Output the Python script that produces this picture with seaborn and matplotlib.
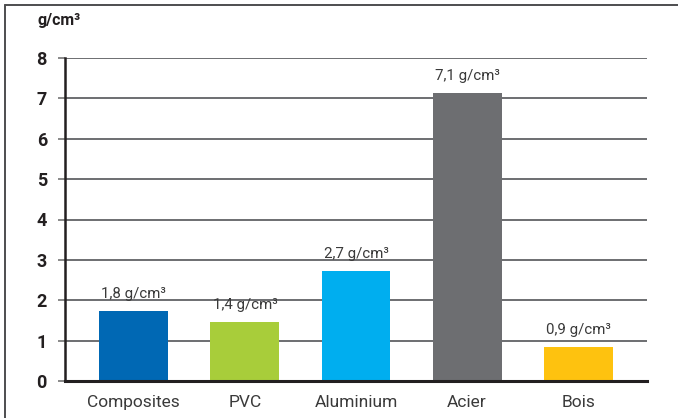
import matplotlib
matplotlib.use("Agg")
import matplotlib.pyplot as plt
from matplotlib.lines import Line2D
import seaborn as sns
import pandas as pd

categories = ["Composites", "PVC", "Aluminium", "Acier", "Bois"]
values = [1.74, 1.47, 2.73, 7.13, 0.85]
value_labels = ["1,8 g/cm³", "1,4 g/cm³", "2,7 g/cm³", "7,1 g/cm³", "0,9 g/cm³"]
colors = ["#0068b4", "#a8cd3a", "#00aeef", "#6d6e71", "#fec20f"]
y_ticks = [0, 1, 2, 3, 4, 5, 6, 7, 8]
unit_title = "g/cm³"

sns.set_theme(style="white")
plt.rcParams['font.family'] = ['Roboto', 'DejaVu Sans']

df = pd.DataFrame({"cat": categories, "val": values})

fig = plt.figure(figsize=(6.78, 4.18), dpi=100)
ax = fig.add_axes([65/678, 37/418, (647-65)/678, (381-58)/418])

sns.barplot(data=df, x="cat", y="val", hue="cat", palette=colors,
            legend=False, width=0.62, saturation=1, ax=ax, zorder=3,
            linewidth=0, edgecolor="none")

ax.set_ylim(0, 8)
ax.set_xlim(-0.62, 4.62)
ax.set_yticks(y_ticks)
ax.set_yticklabels([str(t) for t in y_ticks], fontsize=13, fontweight="bold", color="#231f20")
ax.tick_params(axis="y", length=5, width=1.3, color="#808080", pad=8, left=True)
ax.tick_params(axis="x", length=0, pad=10, labelsize=12.5, labelcolor="#3a3a3a")
ax.set_xlabel("")
ax.set_ylabel("")

for t in y_ticks[1:]:
    ax.axhline(t, color="#6d6e71", lw=1.4, zorder=1)

for s in ["top", "right"]:
    ax.spines[s].set_visible(False)
ax.spines["left"].set_color("#231f20")
ax.spines["left"].set_linewidth(1.8)
ax.spines["bottom"].set_color("#231f20")
ax.spines["bottom"].set_linewidth(2.2)
ax.spines["bottom"].set_zorder(5)

for i, (v, lab) in enumerate(zip(values, value_labels)):
    ax.annotate(lab, (i, v), xytext=(0, 7), textcoords="offset points",
                ha="center", va="bottom", fontsize=10.8, color="#3a3a3a", zorder=6)

fig.text(37/678, 1 - 21/418, unit_title, ha="left", va="center",
         fontsize=11.5, fontweight="bold", color="#231f20")

# outer frame (top and left)
fig.add_artist(Line2D([5/678, 5/678], [0, 1 - 5/418], transform=fig.transFigure,
                      color="#4d4d4f", lw=1.4))
fig.add_artist(Line2D([5/678, 1], [1 - 5/418, 1 - 5/418], transform=fig.transFigure,
                      color="#4d4d4f", lw=1.4))

fig.savefig("out.png", dpi=100)
